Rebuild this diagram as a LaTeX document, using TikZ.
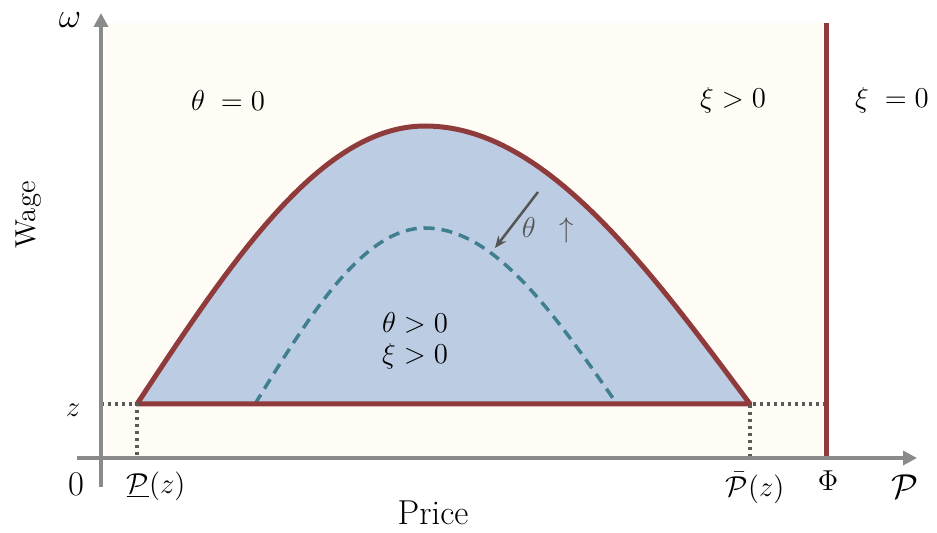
\documentclass[tikz,border=0pt]{standalone}
\usetikzlibrary{arrows.meta}
\definecolor{cream}{HTML}{FFFBF5}
\definecolor{blueF}{HTML}{BBCCE3}
\definecolor{redL}{HTML}{8F3B3B}
\definecolor{tealD}{HTML}{3F7F8F}
\definecolor{axisG}{HTML}{8A8A8A}
\definecolor{arrG}{HTML}{555555}
\definecolor{dotG}{HTML}{5A5A5A}
\tikzset{
  axisline/.style={draw=axisG, line width=2pt, -{Triangle[length=7pt,width=7pt]}},
  redline/.style={draw=redL, line width=2.5pt, line join=round},
  dashline/.style={draw=tealD, line width=1.75pt, dash pattern=on 5.5pt off 3.5pt},
  dotline/.style={draw=dotG, line width=1.6pt, dash pattern=on 1.6pt off 1.9pt},
  lbl/.style={inner sep=0pt, font=\Large},
  small/.style={inner sep=0pt, font=\Large},
}
\begin{document}
\begin{tikzpicture}[x=0.5pt,y=-0.5pt]
\useasboundingbox (0,0) rectangle (937,533);
\fill[cream] (105,23) rectangle (826,458);
% region
\fill[blueF] plot[domain=137:425, samples=60] (\x,{404-278*sin((\x-137)*0.3125)})
  -- plot[domain=425:750, samples=60] (\x,{404-278*sin((750-\x)*0.276923)}) -- cycle;
\draw[dashline] plot[domain=255:425, samples=50] (\x,{404-176*sin((\x-255)*0.529412)})
  -- plot[domain=425:617, samples=50] (\x,{404-176*sin((617-\x)*0.46875)});
\draw[redline] plot[domain=137:425, samples=60] (\x,{404-278*sin((\x-137)*0.3125)})
  -- plot[domain=425:750, samples=60] (\x,{404-278*sin((750-\x)*0.276923)}) -- cycle;
% coordinates
\coordinate (zl) at (101,404);
\coordinate (pl) at (137,404);
\coordinate (plb) at (137,458);
\coordinate (pr) at (750,404);
\coordinate (prb) at (750,458);
\coordinate (phit) at (826,23);
\coordinate (phib) at (826,458);
\coordinate (yb) at (101,487);
\coordinate (yt) at (101,13);
\coordinate (xb) at (77,458);
\coordinate (xt) at (917,458);
\coordinate (as) at (538,192);
\coordinate (ae) at (495,248);
% dotted guides
\draw[dotline] (zl) -- (pl) -- (plb);
\draw[dotline] (phib |- pr) -- (pr) -- (prb);
% Phi line
\draw[redline] (phit) -- (phib);
% axes
\draw[axisline] (yb) -- (yt);
\draw[axisline] (xb) -- (xt);
% theta arrow
\draw[draw=arrG, line width=1.25pt, -{Stealth[length=6pt,width=5pt]}] (as) -- (ae);
% labels
\node[lbl] (t0) at (228,101) {$\theta\;=0$};
\node[lbl] (x0) at (733,100) {$\xi>0$};
\node[lbl] (xe) at (892,100) {$\xi\;=0$};
\node[lbl] (in1) at (415,323) {$\theta>0$};
\node[lbl] (in2) at (415,356) {$\xi>0$};
\node[lbl, text=arrG] (tu) at (548,230) {$\theta\;\;\uparrow$};
\node[inner sep=0pt, font=\LARGE] (om) at (70,20) {$\omega$};
\node[lbl, rotate=90] (wage) at (29,215) {Wage};
\node[lbl] (zz) at (73,410) {$z$};
\node[inner sep=0pt, font=\LARGE] (zero) at (76,484) {$0$};
\node[small] (plo) at (156,486) {$\underline{\mathcal{P}}(z)$};
\node[small] (phi) at (755,488) {$\bar{\mathcal{P}}(z)$};
\node[small] (ph) at (828,481) {$\Phi$};
\node[inner sep=0pt, font=\LARGE] (pp) at (905,487) {$\mathcal{P}$};
\node[inner sep=0pt, font=\LARGE] (price) at (433,513) {Price};
\end{tikzpicture}
\end{document}
